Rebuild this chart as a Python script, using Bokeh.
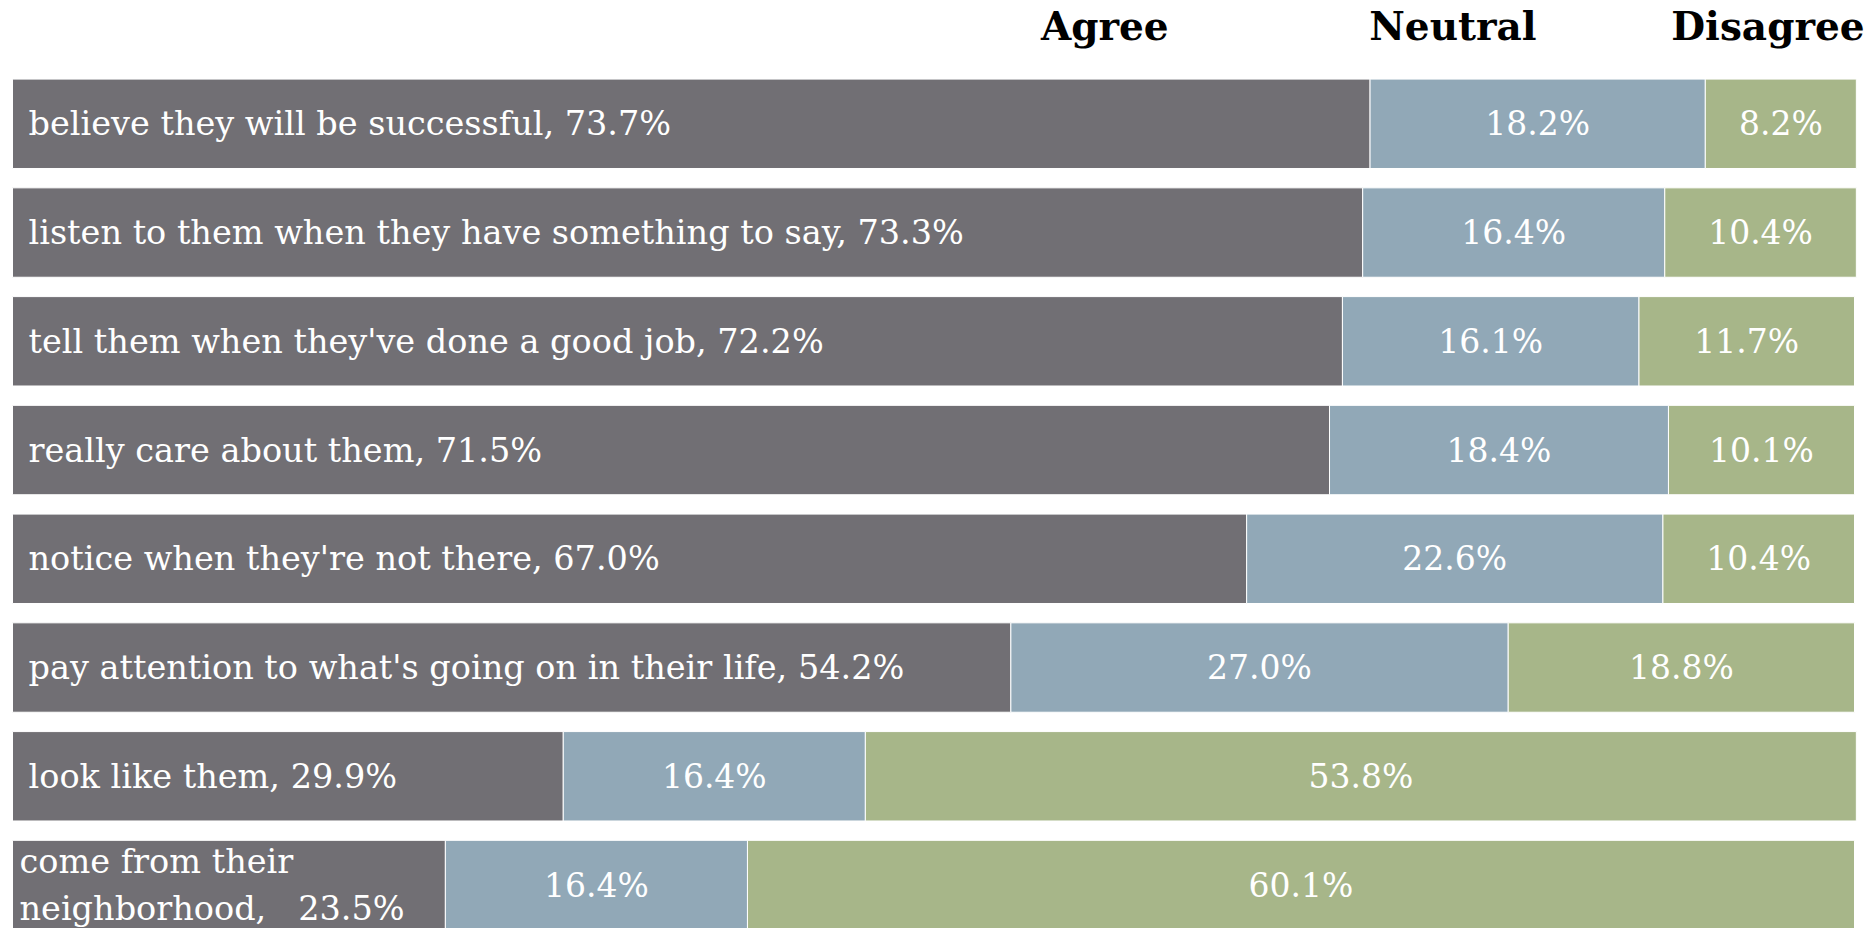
from bokeh.plotting import figure
from bokeh.models import Range1d, ColumnDataSource
from bokeh.core.properties import value
from bokeh.embed import file_html
from bokeh.resources import INLINE

categories = [
    "believe they will be successful",
    "listen to them when they have something to say",
    "tell them when they've done a good job",
    "really care about them",
    "notice when they're not there",
    "pay attention to what's going on in their life",
    "look like them",
    "come from their\nneighborhood",
]
agree = [73.7, 73.3, 72.2, 71.5, 67.0, 54.2, 29.9, 23.5]
neutral = [18.2, 16.4, 16.1, 18.4, 22.6, 27.0, 16.4, 16.4]
disagree = [8.2, 10.4, 11.7, 10.1, 10.4, 18.8, 53.8, 60.1]
headers = ["Agree", "Neutral", "Disagree"]

C_AGREE = "#716F74"
C_NEUTRAL = "#91A8B7"
C_DISAGREE = "#A7B689"
FONT = "DejaVu Serif"

n = len(categories)
idx = list(range(n))
a_end = agree
n_end = [a + b for a, b in zip(agree, neutral)]
d_end = [a + b + c for a, b, c in zip(agree, neutral, disagree)]

labels = []
offsets = []
for c, a in zip(categories, agree):
    if "\n" in c:
        labels.append(f"{c},\u00a0\u00a0 {a:.1f}%")
        offsets.append(7)
    else:
        labels.append(f"{c}, {a:.1f}%")
        offsets.append(16)

src = ColumnDataSource(dict(
    y=idx, a_end=a_end, n_end=n_end, d_end=d_end, zero=[0] * n,
    label=labels, off=offsets,
    n_mid=[(a + b) / 2 for a, b in zip(a_end, n_end)],
    d_mid=[(a + b) / 2 for a, b in zip(n_end, d_end)],
    n_txt=[f"{v:.1f}%" for v in neutral],
    d_txt=[f"{v:.1f}%" for v in disagree],
))

W, H = 1868, 928
p = figure(width=W, height=H, output_backend="svg", toolbar_location=None,
           min_border=0, x_axis_location=None, y_axis_location=None,
           x_range=Range1d(-0.6515, 100.76), y_range=Range1d(7.3997, -1.1338))
p.grid.visible = False
p.outline_line_color = None
p.background_fill_color = "white"

BAR_H = 0.822
p.hbar(y="y", left="zero", right="a_end", height=BAR_H, source=src,
       fill_color=C_AGREE, line_color="white", line_width=1)
p.hbar(y="y", left="a_end", right="n_end", height=BAR_H, source=src,
       fill_color=C_NEUTRAL, line_color="white", line_width=1)
p.hbar(y="y", left="n_end", right="d_end", height=BAR_H, source=src,
       fill_color=C_DISAGREE, line_color="white", line_width=1)

p.text(x="zero", y="y", text="label", x_offset="off", source=src,
       text_align="left", text_baseline="middle", text_color="white",
       text_font=value(FONT), text_font_size="33.5px")
p.text(x="n_mid", y="y", text="n_txt", source=src,
       text_align="center", text_baseline="middle", text_color="white",
       text_font=value(FONT), text_font_size="33px")
p.text(x="d_mid", y="y", text="d_txt", source=src,
       text_align="center", text_baseline="middle", text_color="white",
       text_font=value(FONT), text_font_size="33px")

p.text(x=[59.3, 78.2, 95.3], y=[-0.895] * 3, text=headers,
       text_align="center", text_baseline="middle", text_color="black",
       text_font=value(FONT), text_font_style="bold", text_font_size="39px")

open("out.html", "w").write(file_html(p, INLINE))
